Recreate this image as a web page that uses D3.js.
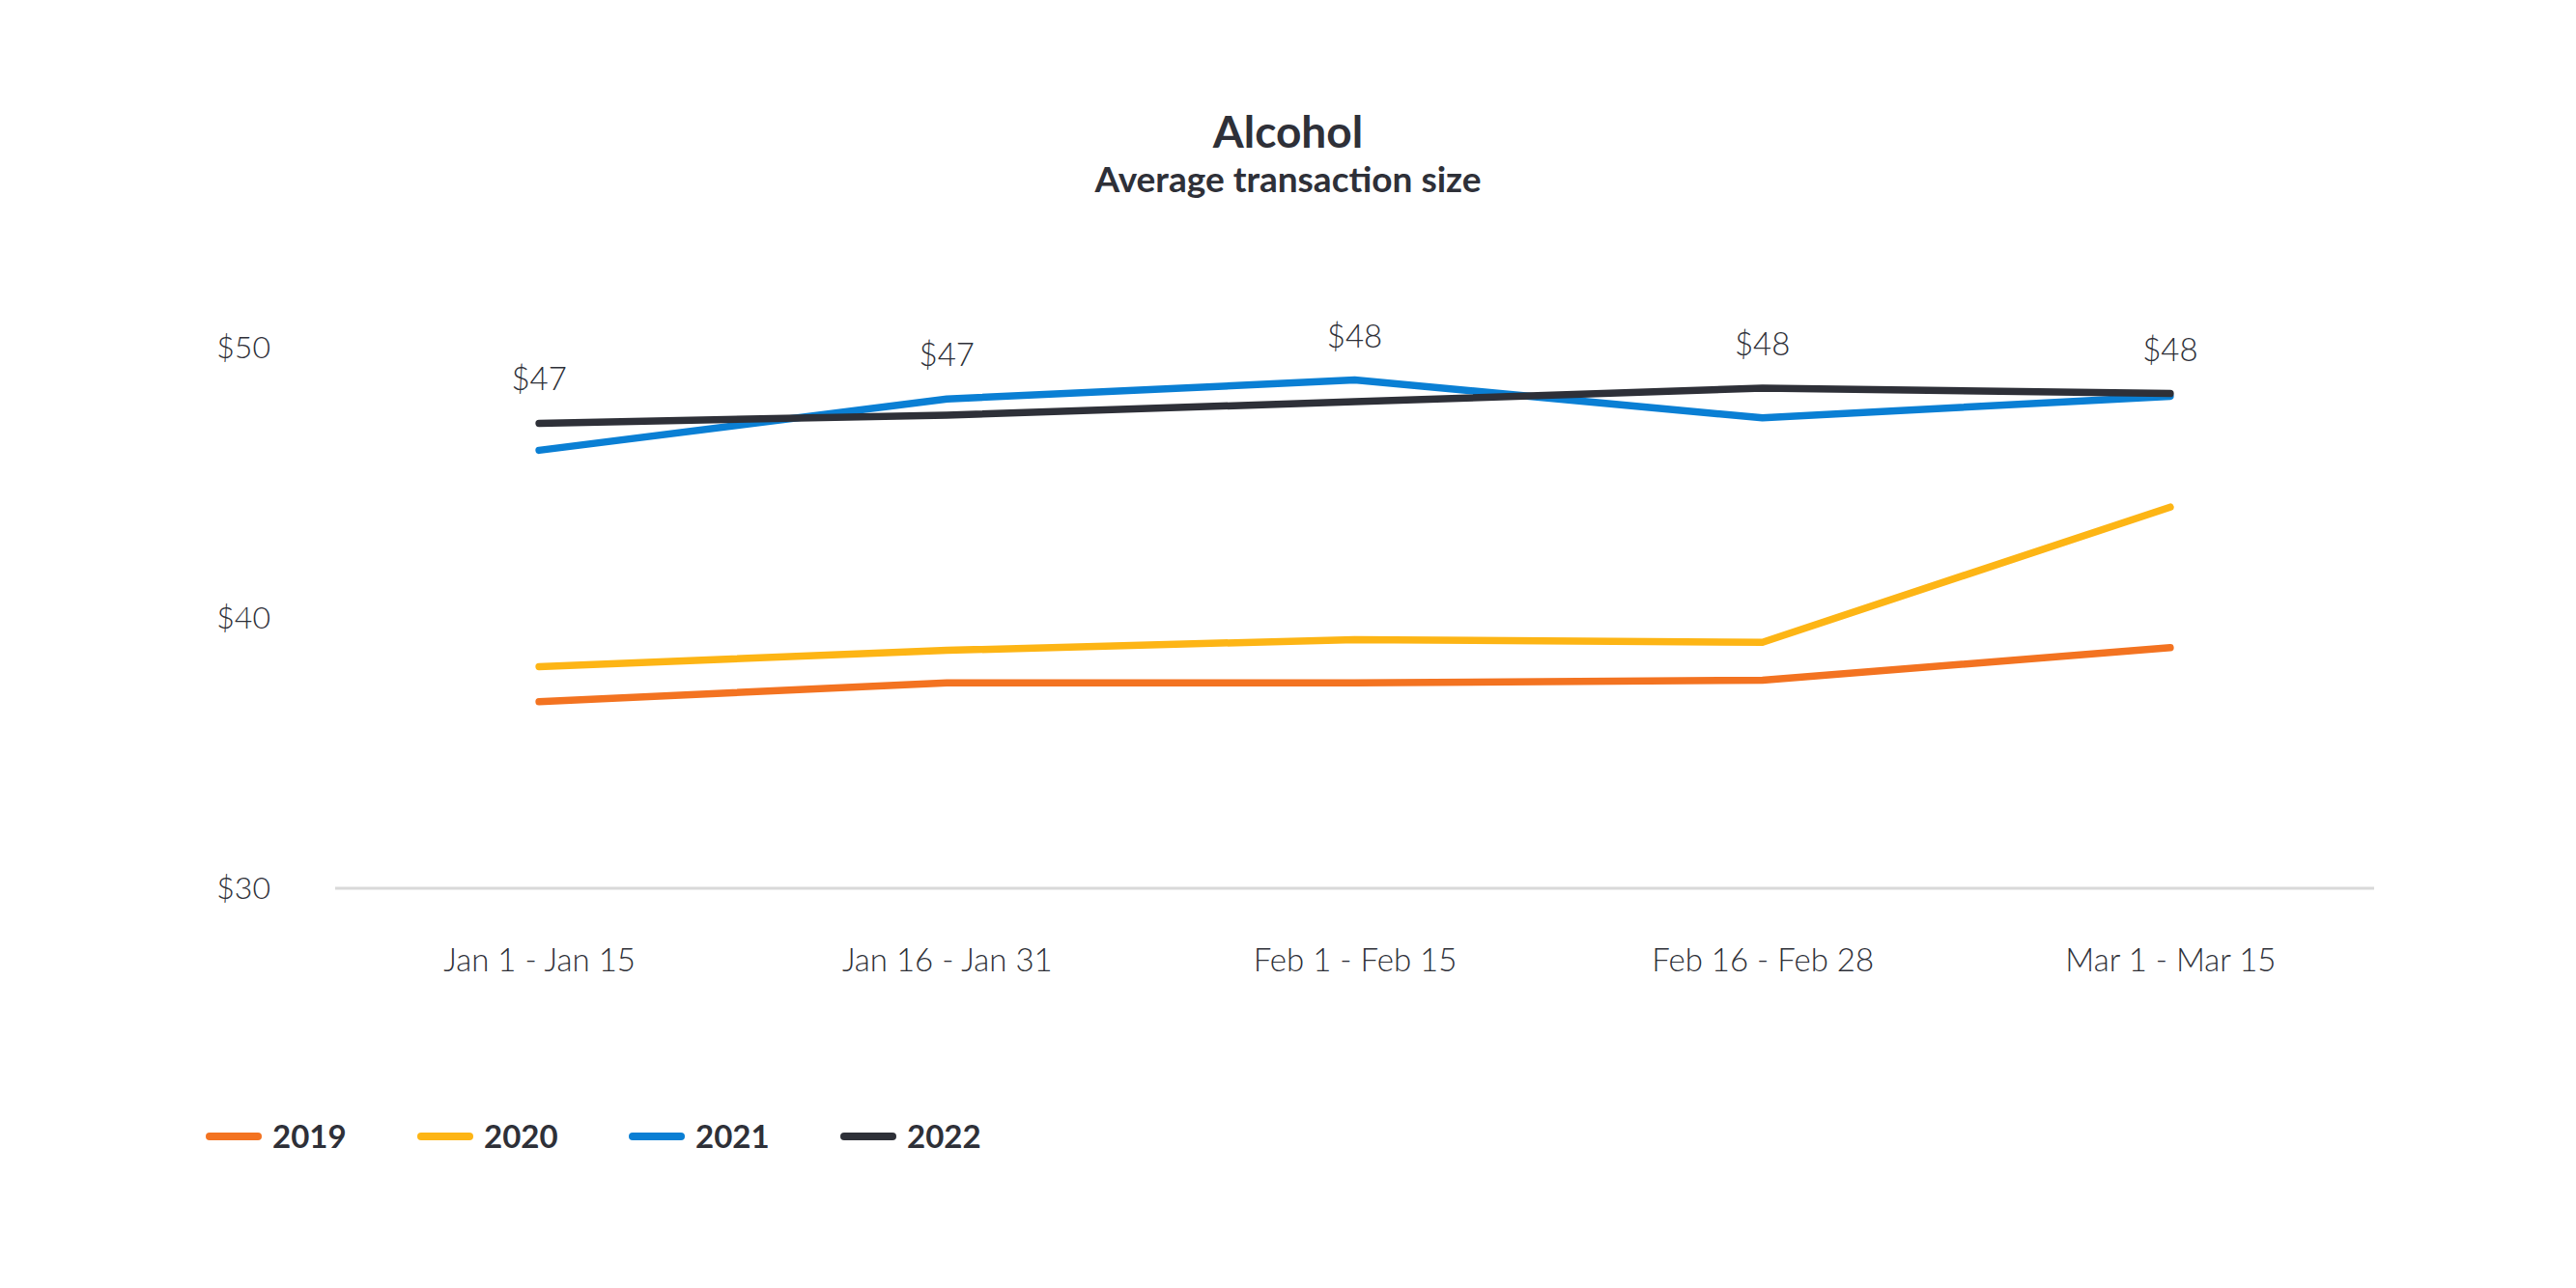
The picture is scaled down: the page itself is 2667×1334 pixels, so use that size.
<!DOCTYPE html>
<html>
<head>
<meta charset="utf-8">
<script src="https://cdn.jsdelivr.net/npm/d3@7"></script>
<style>
  html, body { margin: 0; padding: 0; background: #fff; }
  svg { display: block; font-family: Lato, "Open Sans", sans-serif; }
</style>
</head>
<body>
<div id="chart"></div>
<script>
// categories and series
const periods = ["Jan 1 - Jan 15", "Jan 16  - Jan 31", "Feb 1 - Feb 15", "Feb 16 - Feb 28", "Mar 1 - Mar 15"];
const years = ["2019", "2020", "2021", "2022"];
const values2019 = [36.9, 37.6, 37.6, 37.7, 38.9];
const values2020 = [38.2, 38.8, 39.2, 39.1, 44.1];
const values2021 = [46.2, 48.1, 48.8, 47.4, 48.2];
const values2022 = [47.2, 47.5, 48.0, 48.5, 48.3];
const pointLabels = ["$47", "$47", "$48", "$48", "$48"];
const yTicks = [30, 40, 50];
const colors = ["#f37321", "#fdb515", "#0a7fd4", "#2e3038"];

const width = 2667, height = 1334;
const seriesValues = [values2019, values2020, values2021, values2022];

const svg = d3.select("#chart").append("svg")
    .attr("width", width)
    .attr("height", height);

svg.append("rect").attr("width", width).attr("height", height).attr("fill", "#fff");

// title
svg.append("text")
    .attr("x", width / 2).attr("y", 153)
    .attr("text-anchor", "middle")
    .attr("font-size", 46).attr("font-weight", 700)
    .attr("fill", "#2e3038")
    .text("Alcohol");
svg.append("text")
    .attr("x", width / 2).attr("y", 199)
    .attr("text-anchor", "middle")
    .attr("font-size", 37).attr("font-weight", 700)
    .attr("fill", "#2e3038")
    .text("Average transaction size");

const x = d3.scalePoint().domain(periods).range([347, 2458]).padding(0.5);
const y = d3.scaleLinear().domain([30, 50]).range([920, 360]);

// baseline
svg.append("line")
    .attr("x1", 347).attr("x2", 2458)
    .attr("y1", y(30)).attr("y2", y(30))
    .attr("stroke", "#d9d9d9").attr("stroke-width", 3);

// y axis
const yAxis = svg.append("g")
    .attr("transform", "translate(280,0)")
    .call(d3.axisLeft(y).tickValues(yTicks).tickSize(0).tickPadding(0).tickFormat(d => "$" + d));
yAxis.select(".domain").remove();
yAxis.selectAll("text")
    .attr("font-size", 32).attr("font-weight", 300)
    .attr("fill", "#2e3038")
    .attr("font-family", "Lato, sans-serif");

// x axis
const xAxis = svg.append("g")
    .attr("transform", "translate(0,983)")
    .call(d3.axisBottom(x).tickSize(0).tickPadding(0));
xAxis.select(".domain").remove();
xAxis.selectAll("text")
    .attr("font-size", 33).attr("font-weight", 300)
    .attr("fill", "#2e3038")
    .attr("dy", "0.71em")
    .attr("font-family", "Lato, sans-serif");

// lines
const line = d3.line()
    .x((d, i) => x(periods[i]))
    .y(d => y(d));

svg.selectAll(".series")
    .data(seriesValues)
    .enter().append("path")
    .attr("class", "series")
    .attr("d", line)
    .attr("fill", "none")
    .attr("stroke", (d, i) => colors[i])
    .attr("stroke-width", 7.5)
    .attr("stroke-linecap", "round")
    .attr("stroke-linejoin", "round");

// value labels above the top lines
svg.selectAll(".pointLabel")
    .data(pointLabels)
    .enter().append("text")
    .attr("class", "pointLabel")
    .attr("x", (d, i) => x(periods[i]))
    .attr("y", (d, i) => y(Math.max(values2021[i], values2022[i])) - 34)
    .attr("text-anchor", "middle")
    .attr("font-size", 33).attr("font-weight", 300)
    .attr("fill", "#2e3038")
    .text(d => d);

// legend
const legend = svg.append("g").attr("transform", "translate(213,1177)");
const item = legend.selectAll(".item")
    .data(years)
    .enter().append("g")
    .attr("class", "item")
    .attr("transform", (d, i) => `translate(${i * 219},0)`);
item.append("line")
    .attr("x1", 4).attr("x2", 54)
    .attr("stroke", (d, i) => colors[i])
    .attr("stroke-width", 8)
    .attr("stroke-linecap", "round");
item.append("text")
    .attr("x", 69).attr("dy", "0.36em")
    .attr("font-size", 33).attr("font-weight", 700)
    .attr("fill", "#2e3038")
    .text(d => d);
</script>
</body>
</html>
